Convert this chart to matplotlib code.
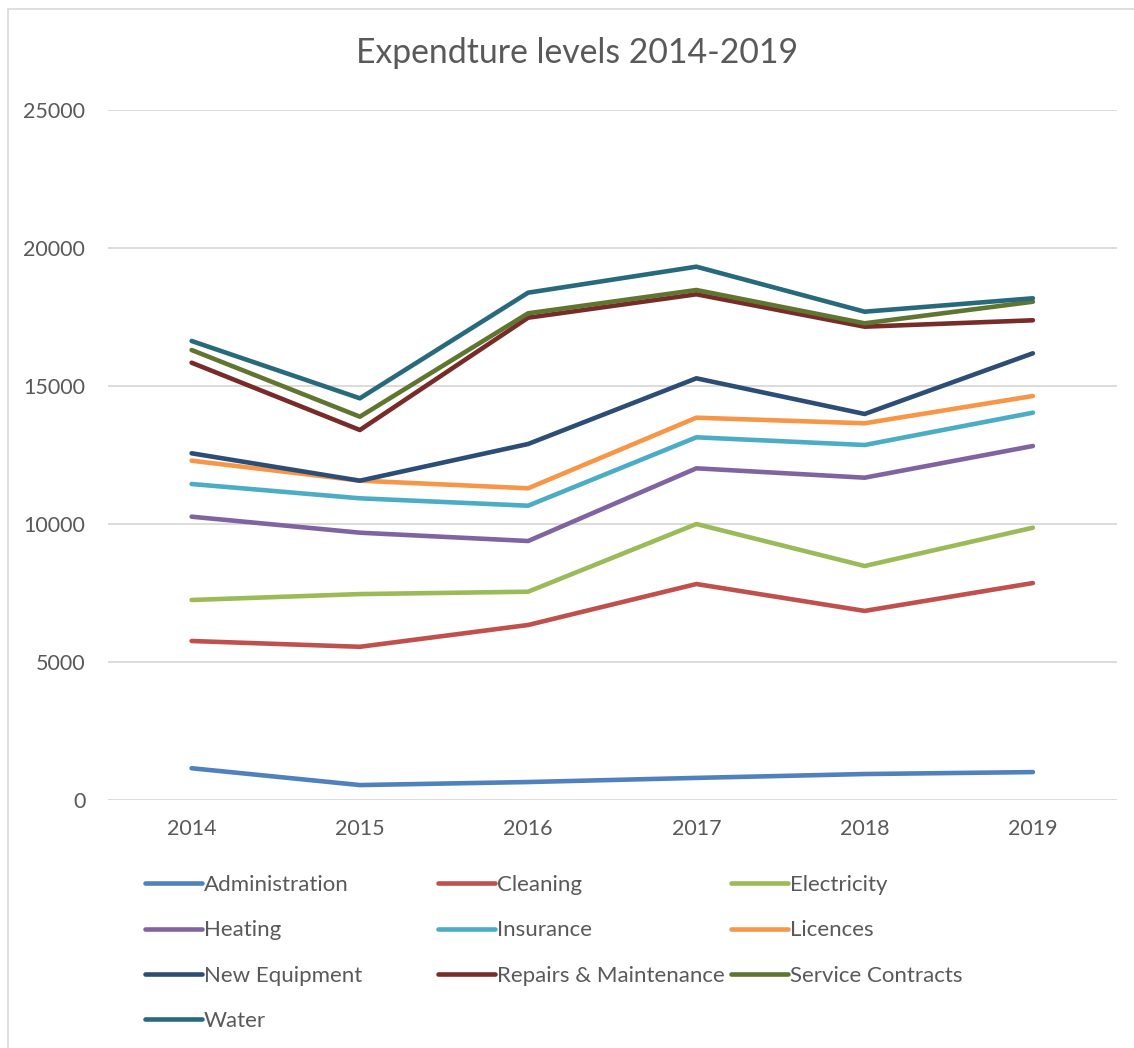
import matplotlib.pyplot as plt
from matplotlib.patches import Rectangle

years = ['2014', '2015', '2016', '2017', '2018', '2019']

administration = [1140, 530, 640, 790, 930, 1000]
cleaning = [5750, 5540, 6330, 7815, 6840, 7850]
electricity = [7236, 7450, 7536, 9989, 8467, 9855]
heating = [10254, 9674, 9373, 12007, 11667, 12815]
insurance = [11438, 10920, 10652, 13130, 12851, 14022]
licences = [12283, 11560, 11283, 13841, 13638, 14627]
new_equipment = [12551, 11558, 12888, 15268, 13975, 16174]
repairs = [15833, 13395, 17464, 18312, 17138, 17370]
service_contracts = [16293, 13877, 17623, 18467, 17261, 18043]
water = [16620, 14543, 18370, 19312, 17681, 18167]

names = ['Administration', 'Cleaning', 'Electricity', 'Heating', 'Insurance',
         'Licences', 'New Equipment', 'Repairs & Maintenance',
         'Service Contracts', 'Water']
series = [administration, cleaning, electricity, heating, insurance,
          licences, new_equipment, repairs, service_contracts, water]
colors = ['#4F81BD', '#C0504D', '#9BBB59', '#8064A2', '#4BACC6',
          '#F79646', '#2C4D75', '#772C2A', '#5F7530', '#276A7C']

TEXT = '#595959'
GRID = '#D9D9D9'
W, H = 1134, 1048

fig = plt.figure(figsize=(W / 100, H / 100), dpi=100)
fig.patches.append(Rectangle((8 / W, -0.1), 1.2, 1.1 - 9 / H, transform=fig.transFigure,
                             fill=False, edgecolor=GRID, linewidth=1.2))

ax = fig.add_axes([107.5 / W, 1 - 799.7 / H, (1117 - 107.5) / W, 690 / H])
x = list(range(len(years)))
lines = []
for name, vals, c in zip(names, series, colors):
    ln, = ax.plot(x, vals, color=c, linewidth=3.3, solid_capstyle='round',
                  solid_joinstyle='round', label=name)
    lines.append(ln)

ax.set_xlim(-0.5, len(years) - 0.5)
ax.set_ylim(0, 25000)
ax.set_yticks(range(0, 25001, 5000))
ax.set_xticks(x, years)
ax.grid(axis='y', color=GRID, linewidth=1.3)
ax.set_axisbelow(True)
for s in ax.spines.values():
    s.set_visible(False)
ax.tick_params(length=0, labelsize=15.5, labelcolor=TEXT)
ax.tick_params(axis='x', pad=14)
ax.tick_params(axis='y', pad=16)
for t in ax.get_xticklabels() + ax.get_yticklabels():
    t.set_family('Lato')

fig.text(577 / W, 1 - 53 / H, 'Expendture levels 2014-2019', ha='center', va='center',
         fontsize=24.3, color=TEXT, family='Lato')

# three single-column legends so the entries read row by row like Excel
col_x = [145, 438, 731]
for i in range(3):
    idx = list(range(i, len(lines), 3))
    leg = fig.legend([lines[j] for j in idx], [names[j] for j in idx],
                     loc='upper left', bbox_to_anchor=(col_x[i] / W, 1 - 875 / H),
                     frameon=False, handlelength=2.57, handletextpad=0.08,
                     labelspacing=1.14, borderpad=0, borderaxespad=0,
                     prop={'family': 'Lato', 'size': 16})
    for t in leg.get_texts():
        t.set_color(TEXT)

fig.savefig('out.png', dpi=100)
